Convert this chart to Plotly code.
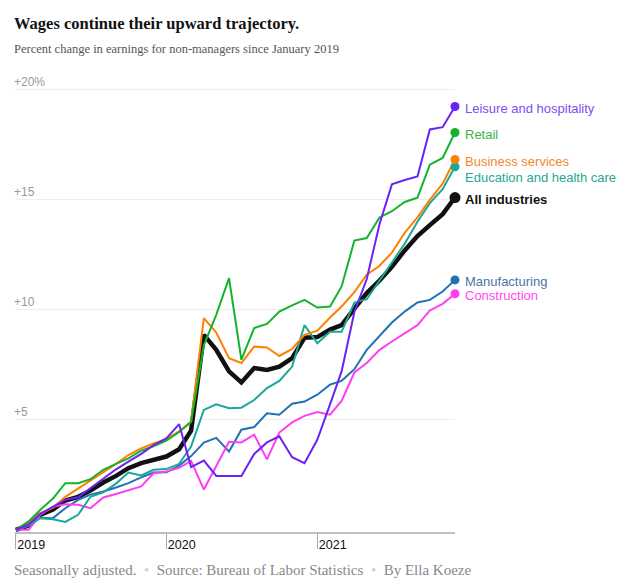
import plotly.graph_objects as go
import pandas as pd

months = [d.strftime("%Y-%m-%d") for d in pd.date_range("2019-01-01", "2021-12-01", freq="MS")]

all_industries = [0, 0.2, 0.68, 0.92, 1.33, 1.5, 1.78, 2.15, 2.45, 2.8, 3.03, 3.18,
                  3.33, 3.66, 4.5, 8.86, 8.18, 7.2, 6.7, 7.35, 7.27, 7.42, 7.8, 8.73,
                  8.76, 9.1, 9.3, 10.05, 10.76, 11.33, 11.95, 12.7, 13.35, 13.85, 14.35, 15.1]
leisure = [0, 0.23, 0.72, 1.06, 1.36, 1.48, 1.9, 2.35, 2.75, 3.1, 3.45, 3.85,
           4.15, 4.8, 2.85, 3.15, 2.45, 2.45, 2.45, 3.45, 3.97, 4.25, 3.3, 3.03,
           4.09, 5.7, 7.2, 9.9, 11.4, 13.9, 15.7, 15.9, 16.06, 18.2, 18.3, 19.24]
retail = [0, 0.38, 0.9, 1.42, 2.12, 2.12, 2.3, 2.73, 3.0, 3.25, 3.6, 3.8,
          4.05, 4.45, 4.9, 8.4, 9.77, 11.44, 7.73, 9.17, 9.36, 9.92, 10.2, 10.45,
          10.1, 10.15, 11.06, 13.15, 13.26, 14.2, 14.48, 14.9, 15.1, 16.6, 16.9, 18.06]
business = [0, 0.25, 0.76, 1.0, 1.5, 1.88, 2.23, 2.65, 3.0, 3.4, 3.7, 3.92,
            4.12, 4.47, 4.92, 9.62, 8.97, 7.8, 7.58, 8.33, 8.29, 7.9, 8.22, 8.86,
            9.05, 9.65, 10.15, 10.8, 11.6, 12.0, 12.6, 13.5, 14.2, 15.0, 15.73, 16.83]
education = [0, 0.2, 0.53, 0.48, 0.36, 0.68, 1.5, 1.7, 2.1, 2.6, 2.47, 2.73,
             2.76, 3.0, 3.78, 5.45, 5.7, 5.53, 5.55, 5.9, 6.44, 6.77, 7.42, 9.3,
             8.48, 9.0, 9.0, 10.33, 10.48, 11.3, 12.15, 13.0, 14.0, 14.85, 15.48, 16.5]
manufacturing = [0, 0.18, 0.55, 0.53, 0.98, 1.36, 1.6, 1.74, 1.92, 2.12, 2.38, 2.6,
                 2.62, 2.92, 3.35, 3.96, 4.18, 3.56, 4.55, 4.67, 5.3, 5.23, 5.73, 5.83,
                 6.14, 6.6, 6.77, 7.3, 8.18, 8.79, 9.42, 9.92, 10.33, 10.45, 10.83, 11.36]
construction = [0, 0, 0.68, 1.05, 1.16, 1.14, 0.98, 1.47, 1.63, 1.8, 1.97, 2.57,
                2.65, 2.82, 3.13, 1.83, 2.88, 4.0, 3.97, 4.32, 3.2, 4.42, 4.88, 5.18,
                5.35, 5.23, 5.86, 7.15, 7.58, 8.18, 8.56, 8.94, 9.3, 9.97, 10.27, 10.73]

series = [
    ("All industries", all_industries, "#111111", "#111111", 4.5, 0),
    ("Manufacturing", manufacturing, "#1f72b6", "#4d73a8", 2, 0),
    ("Construction", construction, "#ff3ef2", "#ff4af0", 2, 0),
    ("Education and health care", education, "#17a897", "#2aa597", 2, -9),
    ("Business services", business, "#ff8000", "#f7862d", 2, 0),
    ("Retail", retail, "#14b32c", "#3db348", 2, 0),
    ("Leisure and hospitality", leisure, "#6b22f5", "#7c4ef0", 2, 0),
]

y_ticks = [5, 10, 15, 20]
y_tick_labels = ["+5", "+10", "+15", "+20%"]
x_ticks = ["2019-01-01", "2020-01-01", "2021-01-01"]
x_tick_labels = ["2019", "2020", "2021"]

fig = go.Figure()
for name, vals, col, tcol, w, dy in series:
    fig.add_trace(go.Scatter(x=months, y=vals, mode="lines",
                             line=dict(color=col, width=w), hoverinfo="skip"))
for name, vals, col, tcol, w, dy in series:
    fig.add_trace(go.Scatter(x=[months[-1]], y=[vals[-1]], mode="markers",
                             marker=dict(color=col, size=11 if name == "All industries" else 9),
                             cliponaxis=False, hoverinfo="skip"))
    fig.add_annotation(x=months[-1], y=vals[-1], text=("<b>%s</b>" % name) if name == "All industries" else name,
                       xanchor="left", yanchor="middle", xshift=8, yshift=dy - 2,
                       showarrow=False,
                       font=dict(family="Liberation Sans, Arial, sans-serif", size=13, color=tcol))

# y-axis tick labels placed just above their gridlines
for v, lab in zip(y_ticks, y_tick_labels):
    fig.add_annotation(xref="paper", x=0, y=v, text=lab, xanchor="left", yanchor="bottom",
                       xshift=-3, yshift=-1, showarrow=False,
                       font=dict(family="Liberation Sans, Arial, sans-serif", size=12, color="#999999"))

fig.add_annotation(xref="paper", yref="paper", x=0, y=1, xanchor="left", yanchor="middle",
                   xshift=-3, yshift=47, showarrow=False,
                   text="<b>Wages continue their upward trajectory.</b>",
                   font=dict(family="Liberation Serif, Times New Roman, serif", size=16.5, color="#121212"))
fig.add_annotation(xref="paper", yref="paper", x=0, y=1, xanchor="left", yanchor="middle",
                   xshift=-3, yshift=21, showarrow=False,
                   text="Percent change in earnings for non-managers since January 2019",
                   font=dict(family="Liberation Serif, Times New Roman, serif", size=12.5, color="#555555"))
fig.add_annotation(xref="paper", yref="paper", x=0, y=0, xanchor="left", yanchor="middle",
                   xshift=-3, yshift=-38, showarrow=False,
                   text=("Seasonally adjusted.  <span style='color:#d0d0d0'>\u2022</span>  "
                         "Source: Bureau of Labor Statistics  <span style='color:#d0d0d0'>\u2022</span>  By Ella Koeze"),
                   font=dict(family="Liberation Serif, Times New Roman, serif", size=15, color="#888888"))

fig.update_layout(
    width=629, height=586,
    margin=dict(l=7, r=182, t=62, b=62),
    paper_bgcolor="white", plot_bgcolor="white",
    showlegend=False,
)
fig.update_xaxes(
    type="date", range=["2018-12-30", "2021-12-01"],
    tickvals=x_ticks, ticktext=x_tick_labels,
    ticks="outside", ticklen=15, tickcolor="#aaaaaa", tickwidth=1,
    ticklabelposition="outside right", ticklabeloverflow="allow",
    showgrid=False, showline=True, linecolor="#c0c0c0", linewidth=2,
    tickfont=dict(family="Liberation Sans, Arial, sans-serif", size=12.5, color="#111111"),
    zeroline=False,
)
fig.update_yaxes(
    range=[-0.1, 20.9], tickvals=y_ticks, showticklabels=False,
    showgrid=True, gridcolor="#eeeeee", gridwidth=1,
    zeroline=False, showline=False, ticks="",
)

fig.write_html("out.html")
